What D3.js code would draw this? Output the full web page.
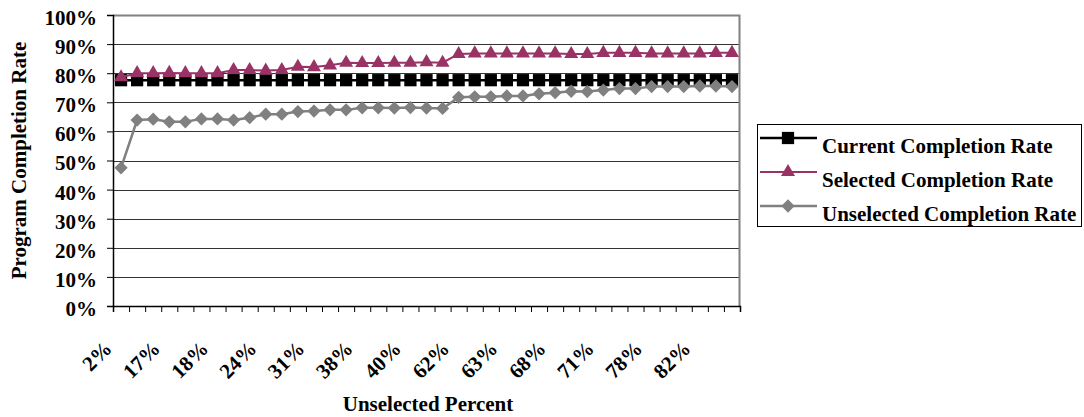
<!DOCTYPE html>
<html>
<head>
<meta charset="utf-8">
<script src="https://cdn.jsdelivr.net/npm/d3@7"></script>
<style>
  body { margin: 0; background: #fff; }
  text { font-family: "Liberation Serif", "Times New Roman", serif; font-weight: bold; fill: #000; }
</style>
</head>
<body>
<script>
// Unselected percent per category (only every third one is labelled)
var categories = ["2%","12%","15%","17%","17%","18%","18%","20%","22%","24%",
  "26%","29%","31%","33%","36%","38%","39%","40%","40%","41%",
  "55%","62%","62%","63%","63%","64%","65%","68%","69%","70%",
  "71%","74%","76%","78%","80%","81%","82%","85%","88%"];

var currentRate = [0.776,0.776,0.776,0.776,0.776,0.776,0.776,0.776,0.776,0.776,
  0.776,0.776,0.776,0.776,0.776,0.776,0.776,0.776,0.776,0.776,
  0.776,0.776,0.776,0.776,0.776,0.776,0.776,0.776,0.776,0.776,
  0.776,0.776,0.776,0.776,0.776,0.776,0.776,0.776,0.776];

var selectedRate = [0.786,0.800,0.800,0.801,0.800,0.800,0.800,0.811,0.811,0.809,
  0.811,0.822,0.821,0.827,0.836,0.835,0.835,0.836,0.836,0.838,
  0.836,0.866,0.868,0.868,0.868,0.868,0.868,0.868,0.866,0.866,
  0.870,0.870,0.870,0.868,0.868,0.868,0.868,0.870,0.870];

var unselectedRate = [0.475,0.639,0.642,0.633,0.633,0.643,0.643,0.639,0.647,0.659,
  0.659,0.668,0.670,0.674,0.674,0.681,0.681,0.680,0.682,0.680,
  0.679,0.717,0.719,0.719,0.722,0.722,0.729,0.733,0.738,0.737,
  0.742,0.747,0.747,0.754,0.754,0.754,0.756,0.756,0.754];

var yTicks = [0,0.1,0.2,0.3,0.4,0.5,0.6,0.7,0.8,0.9,1.0];

var series = [
  {name: "Current Completion Rate", values: currentRate, color: "#000000", width: 2.5, shape: "square"},
  {name: "Selected Completion Rate", values: selectedRate, color: "#993366", width: 2, shape: "triangle"},
  {name: "Unselected Completion Rate", values: unselectedRate, color: "#808080", width: 2.5, shape: "diamond"}
];

var W = 1084, H = 417;
var plot = {left: 113, right: 740, top: 15, bottom: 306};

var svg = d3.select("body").append("svg")
  .attr("width", W).attr("height", H);

var idx = d3.range(categories.length);

// Set the ranges
var x = d3.scaleBand().domain(idx).range([plot.left, plot.right]);
var xEdge = d3.scaleLinear().domain([0, categories.length]).range([plot.left, plot.right]);
var y = d3.scaleLinear().domain([0, 1]).range([plot.bottom, plot.top]);

function cx(i) { return x(i) + x.bandwidth() / 2; }

// gridlines
svg.append("g")
  .selectAll("line")
  .data(yTicks.slice(1, -1))
  .enter().append("line")
    .attr("x1", plot.left).attr("x2", plot.right)
    .attr("y1", function(d) { return Math.round(y(d)) + 0.5; })
    .attr("y2", function(d) { return Math.round(y(d)) + 0.5; })
    .attr("stroke", "#333").attr("stroke-width", 1);

// top / right border of plot area
svg.append("path")
  .attr("d", "M" + plot.left + "," + (plot.top + 0.5) + "H" + (plot.right - 0.5) + "V" + plot.bottom)
  .attr("fill", "none").attr("stroke", "#808080").attr("stroke-width", 2);

// Y axis
var yAxis = d3.axisLeft(y)
  .tickValues(yTicks)
  .tickFormat(d3.format(".0%"))
  .tickSizeOuter(0)
  .tickSize(6)
  .tickPadding(10);

var gy = svg.append("g")
  .attr("transform", "translate(" + plot.left + ",0)")
  .call(yAxis);
gy.selectAll("text").attr("font-size", 21).attr("dy", "0.45em")
  .style("font-family", '"Liberation Serif", serif').style("font-weight", "bold");
gy.select(".domain").attr("stroke", "#000").attr("stroke-width", 1.5);

// X axis ticks on category boundaries
var xAxis = d3.axisBottom(xEdge)
  .tickValues(d3.range(categories.length + 1))
  .tickFormat("")
  .tickSizeOuter(0)
  .tickSize(6);

var gx = svg.append("g")
  .attr("transform", "translate(0," + plot.bottom + ")")
  .call(xAxis);
gx.select(".domain").attr("stroke", "#000").attr("stroke-width", 1.5);

// X tick labels, every third category, rotated
svg.append("g")
  .selectAll("text")
  .data(idx.filter(function(i) { return i % 3 === 0; }))
  .enter().append("text")
    .attr("font-size", 21)
    .attr("text-anchor", "end")
    .attr("transform", function(i) {
      return "translate(" + (cx(i) - 8) + "," + 350 + ") rotate(-45)";
    })
    .text(function(i) { return categories[i]; });

// axis titles
svg.append("text")
  .attr("font-size", 21)
  .attr("text-anchor", "middle")
  .attr("transform", "translate(26," + ((plot.top + plot.bottom) / 2) + ") rotate(-90)")
  .text("Program Completion Rate");

svg.append("text")
  .attr("font-size", 21)
  .attr("text-anchor", "middle")
  .attr("x", 428).attr("y", 411)
  .text("Unselected Percent");

function marker(shape) {
  if (shape === "square") return d3.symbol(d3.symbolSquare, 150)();
  if (shape === "triangle") return d3.symbol(d3.symbolTriangle, 85)();
  return d3.symbol(d3.symbolSquare, 88)();
}
function markerRot(shape) { return shape === "diamond" ? " rotate(45)" : ""; }

var line = d3.line()
  .x(function(d, i) { return cx(i); })
  .y(function(d) { return y(d); });

series.forEach(function(s) {
  var g = svg.append("g");
  g.append("path")
    .attr("d", line(s.values))
    .attr("fill", "none")
    .attr("stroke", s.color)
    .attr("stroke-width", s.width);
  g.selectAll("path.m")
    .data(s.values)
    .enter().append("path")
      .attr("class", "m")
      .attr("d", marker(s.shape))
      .attr("fill", s.color)
      .attr("transform", function(d, i) {
        return "translate(" + cx(i) + "," + y(d) + ")" + markerRot(s.shape);
      });
});

// Legend
var legend = svg.append("g");
legend.append("rect")
  .attr("x", 757.5).attr("y", 124.5)
  .attr("width", 324).attr("height", 102)
  .attr("fill", "#fff").attr("stroke", "#000").attr("stroke-width", 1);

series.forEach(function(s, k) {
  var ly = 138 + k * 34;
  legend.append("line")
    .attr("x1", 760).attr("x2", 817)
    .attr("y1", ly).attr("y2", ly)
    .attr("stroke", s.color).attr("stroke-width", s.width);
  legend.append("path")
    .attr("d", marker(s.shape))
    .attr("fill", s.color)
    .attr("transform", "translate(788," + ly + ")" + markerRot(s.shape));
  legend.append("text")
    .attr("font-size", 21)
    .attr("x", 822).attr("y", ly + 15)
    .text(s.name);
});
</script>
</body>
</html>
